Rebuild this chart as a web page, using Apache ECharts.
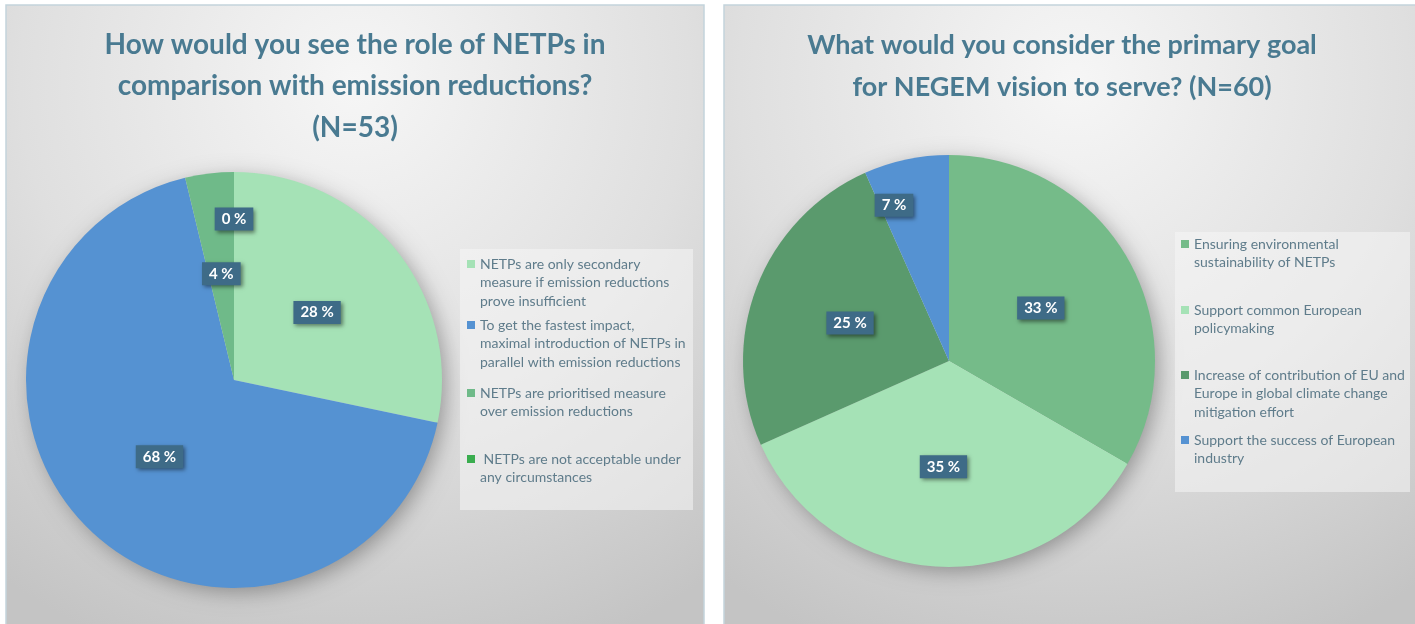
<!DOCTYPE html>
<html>
<head>
<meta charset="utf-8">
<style>
  html, body { margin: 0; padding: 0; background: #fff; }
  #chart { width: 1415px; height: 624px; }
</style>
<script src="https://cdn.jsdelivr.net/npm/echarts@6/dist/echarts.min.js"></script>
</head>
<body>
<div id="chart"></div>
<script>
  // left chart: role of NETPs (N=53)
  const leftTitle = 'How would you see the role of NETPs in\ncomparison with emission reductions?\n(N=53)'
  const leftNames = [
    'NETPs are only secondary measure if emission reductions prove insufficient',
    'To get the fastest impact, maximal introduction of NETPs in parallel with emission reductions',
    'NETPs are prioritised measure over emission reductions',
    'NETPs are not acceptable under any circumstances'
  ]
  const leftLabels = [
    'NETPs are only secondary\nmeasure if emission reductions\nprove insufficient',
    'To get the fastest impact,\nmaximal introduction of NETPs in\nparallel with emission reductions',
    'NETPs are prioritised measure\nover emission reductions',
    ' NETPs are not acceptable under\nany circumstances'
  ]
  const leftValues = [15, 36, 2, 0]
  const leftColors = ['#a5e2b6', '#5592d2', '#6fba89', '#3aad4f']

  // right chart: primary goal for NEGEM vision (N=60)
  const rightTitle = 'What would you consider the primary goal\nfor NEGEM vision to serve? (N=60)'
  const rightNames = [
    'Ensuring environmental sustainability of NETPs',
    'Support common European policymaking',
    'Increase of contribution of EU and Europe in global climate change mitigation effort',
    'Support the success of European industry'
  ]
  const rightLabels = [
    'Ensuring environmental\nsustainability of NETPs',
    'Support common European\npolicymaking',
    'Increase of contribution of EU and\nEurope in global climate change\nmitigation effort',
    'Support the success of European\nindustry'
  ]
  const rightValues = [20, 21, 15, 4]
  const rightColors = ['#75bb89', '#a5e2b6', '#5a9a6d', '#5592d2']

  const FONT = 'Lato'
  const TITLE_COLOR = '#497a91'
  const LEGEND_COLOR = '#5f7c8b'
  const LH = 18.5

  const chart = echarts.init(document.getElementById('chart'))

  /** one legend per item; the icon is a tall path so the square sits on the first line */
  function makeLegend(name, label, x, firstLine) {
    const n = label.split('\n').length
    const h = n * LH
    const sq = LH / 2 - 4
    return {
      data: [name],
      left: x,
      top: firstLine - LH / 2,
      orient: 'vertical',
      padding: 0,
      icon: 'path://M0,' + sq + 'h8v8h-8z M0,0 M8,' + h,
      itemWidth: 8,
      itemHeight: h,
      selectedMode: false,
      formatter: () => label,
      textStyle: {
        fontFamily: FONT,
        fontSize: 14,
        lineHeight: LH,
        color: LEGEND_COLOR
      }
    }
  }

  const leftRows = [264, 325, 393, 459]
  const rightRows = [244, 310, 375, 440]
  const legends = []
  leftNames.forEach((nm, i) => legends.push(makeLegend(nm, leftLabels[i], 467, leftRows[i])))
  rightNames.forEach((nm, i) => legends.push(makeLegend(nm, rightLabels[i], 1181, rightRows[i])))

  function panel(x, w) {
    return {
      type: 'rect',
      z: -10,
      shape: { x: x, y: 5, width: w, height: 640 },
      style: {
        fill: {
          type: 'radial', x: 0.5, y: 0.12, r: 0.95,
          colorStops: [
            { offset: 0, color: '#f6f6f6' },
            { offset: 0.55, color: '#dfdfdf' },
            { offset: 1, color: '#c4c4c4' }
          ]
        },
        stroke: '#c3d4dc',
        lineWidth: 1.5
      }
    }
  }

  function pieShadow(cx, cy, r) {
    return {
      type: 'circle',
      z: -5,
      shape: { cx: cx, cy: cy, r: r - 2 },
      style: {
        fill: '#d8d8d8',
        shadowColor: 'rgba(0,0,0,0.35)',
        shadowBlur: 22,
        shadowOffsetX: 5,
        shadowOffsetY: 5
      }
    }
  }

  function legendBox(x, y, w, h) {
    return {
      type: 'rect',
      z: -4,
      shape: { x: x, y: y, width: w, height: h },
      style: { fill: 'rgba(245,245,245,0.55)' }
    }
  }

  const labelStyle = {
    show: true,
    position: 'inside',
    formatter: '{d} %',
    color: '#fff',
    fontFamily: FONT,
    fontWeight: 'bold',
    fontSize: 15,
    lineHeight: 15,
    backgroundColor: '#3e6b87',
    padding: [4, 7, 4, 7],
    shadowColor: 'rgba(0,0,0,0.45)',
    shadowBlur: 4,
    shadowOffsetX: 2,
    shadowOffsetY: 2
  }

  chart.setOption({
    animation: false,
    title: [
      {
        text: leftTitle, left: 355, top: 24, textAlign: 'center', padding: 0,
        textStyle: { fontFamily: FONT, fontWeight: 'bold', fontSize: 28, lineHeight: 41.5, color: TITLE_COLOR }
      },
      {
        text: rightTitle, left: 1062, top: 24, textAlign: 'center', padding: 0,
        textStyle: { fontFamily: FONT, fontWeight: 'bold', fontSize: 27, lineHeight: 42, color: TITLE_COLOR }
      }
    ],
    legend: legends,
    graphic: [
      panel(6, 698),
      panel(724, 700),
      pieShadow(234, 380, 208),
      pieShadow(949, 361, 206),
      legendBox(460, 249, 233, 261),
      legendBox(1175, 232, 235, 260)
    ],
    series: [
      {
        name: 'role',
        type: 'pie',
        center: [234, 380],
        radius: 208,
        percentPrecision: 0,
        clockwise: true,
        startAngle: 90,
        label: labelStyle,
        labelLine: { show: false },
        // the 0 % slice keeps its label higher up, as in the original
        labelLayout: p => (p.dataIndex === 3 ? { dy: -54 } : {}),
        emphasis: { disabled: true },
        data: leftNames.map((nm, i) => ({ name: nm, value: leftValues[i], itemStyle: { color: leftColors[i] } }))
      },
      {
        name: 'goal',
        type: 'pie',
        center: [949, 361],
        radius: 206,
        percentPrecision: 0,
        clockwise: true,
        startAngle: 90,
        label: labelStyle,
        labelLine: { show: false },
        // small blue slice: label pushed out towards the rim
        labelLayout: p => (p.dataIndex === 3 ? { dx: -33, dy: -52 } : {}),
        emphasis: { disabled: true },
        data: rightNames.map((nm, i) => ({ name: nm, value: rightValues[i], itemStyle: { color: rightColors[i] } }))
      }
    ]
  })
</script>
</body>
</html>
